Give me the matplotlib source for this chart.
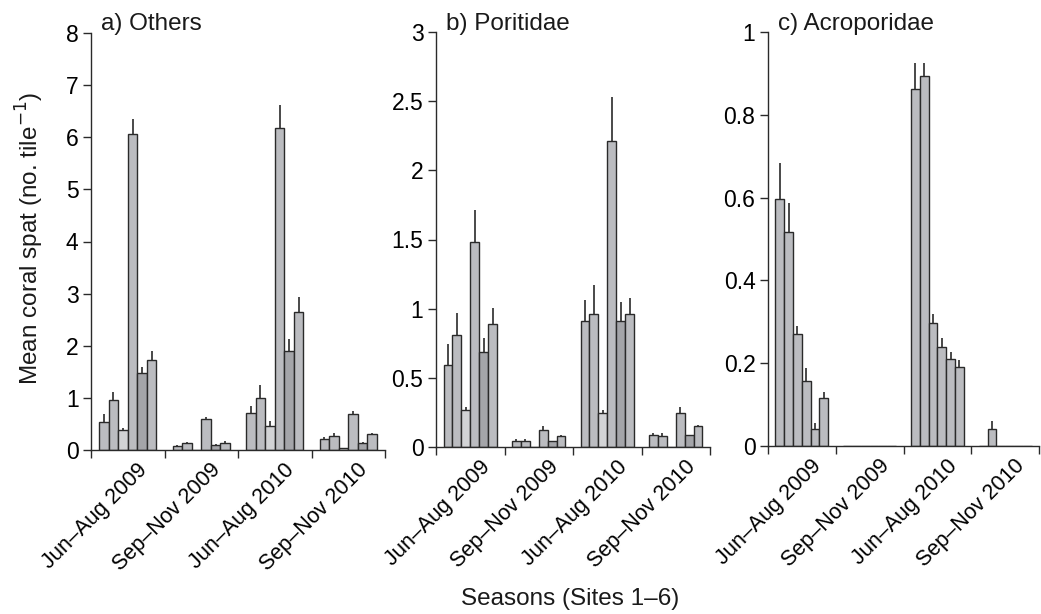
import matplotlib
matplotlib.use("Agg")
import matplotlib.pyplot as plt
import matplotlib.transforms as mtransforms
import numpy as np

plt.rcParams['font.family'] = ['Liberation Sans', 'DejaVu Sans']

seasons = ["Jun–Aug 2009", "Sep–Nov 2009", "Jun–Aug 2010", "Sep–Nov 2010"]
sites = [1, 2, 3, 4, 5, 6]

# Panel a) Others: mean per season (rows) x site (cols)
others_mean = [
    [0.54, 0.96, 0.38, 6.06, 1.48, 1.72],
    [0.08, 0.13, 0.00, 0.59, 0.09, 0.13],
    [0.71, 1.00, 0.47, 6.18, 1.90, 2.65],
    [0.22, 0.26, 0.04, 0.70, 0.13, 0.30],
]
others_se = [
    [0.16, 0.15, 0.04, 0.29, 0.12, 0.17],
    [0.02, 0.03, 0.00, 0.05, 0.02, 0.04],
    [0.13, 0.24, 0.08, 0.44, 0.23, 0.28],
    [0.03, 0.07, 0.00, 0.04, 0.02, 0.02],
]

# Panel b) Poritidae
porit_mean = [
    [0.59, 0.81, 0.27, 1.48, 0.69, 0.89],
    [0.046, 0.046, 0.00, 0.12, 0.046, 0.077],
    [0.91, 0.96, 0.245, 2.21, 0.91, 0.96],
    [0.089, 0.077, 0.00, 0.245, 0.09, 0.15],
]
porit_se = [
    [0.155, 0.16, 0.02, 0.23, 0.10, 0.115],
    [0.014, 0.014, 0.00, 0.03, 0.00, 0.012],
    [0.155, 0.21, 0.025, 0.32, 0.14, 0.12],
    [0.011, 0.023, 0.00, 0.045, 0.00, 0.01],
]

# Panel c) Acroporidae
acro_mean = [
    [0.597, 0.516, 0.27, 0.158, 0.04, 0.117],
    [0.0, 0.0, 0.0, 0.0, 0.0, 0.0],
    [0.862, 0.893, 0.297, 0.24, 0.21, 0.19],
    [0.0, 0.04, 0.0, 0.0, 0.0, 0.0],
]
acro_se = [
    [0.086, 0.071, 0.019, 0.03, 0.015, 0.014],
    [0.0, 0.0, 0.0, 0.0, 0.0, 0.0],
    [0.062, 0.031, 0.022, 0.02, 0.018, 0.018],
    [0.0, 0.02, 0.0, 0.0, 0.0, 0.0],
]

panels = [
    ("a) Others", others_mean, others_se, 8, [0, 1, 2, 3, 4, 5, 6, 7, 8], ["0", "1", "2", "3", "4", "5", "6", "7", "8"]),
    ("b) Poritidae", porit_mean, porit_se, 3, [0, 0.5, 1, 1.5, 2, 2.5, 3], ["0", "0.5", "1", "1.5", "2", "2.5", "3"]),
    ("c) Acroporidae", acro_mean, acro_se, 1, [0, 0.2, 0.4, 0.6, 0.8, 1], ["0", "0.2", "0.4", "0.6", "0.8", "1"]),
]

W, H = 1041, 614
fig = plt.figure(figsize=(W / 100, H / 100), dpi=100)

# axes boxes in pixels: left, right, top, bottom
boxes = [(91, 385, 33, 450), (436, 710, 32, 447), (768, 1039, 32, 446)]

base = "#bbbcc0"
light = "#d2d3d5"
dark = "#a4a5a9"
edge = "#2a2a2a"
site_colors_ab = [base, base, light, base, dark, base]
site_colors_c = [base] * 6

fs_title = 17.5
fs_tick = 15.5
for pi, (title, means, ses, ymax, yt, ytl) in enumerate(panels):
    l, r, t, b = boxes[pi]
    ax = fig.add_axes([l / W, (H - b) / H, (r - l) / W, (b - t) / H])
    m = np.array(means)
    s = np.array(ses)
    bw = 0.13
    cols = site_colors_c if pi == 2 else site_colors_ab
    for j in range(len(sites)):
        x = np.arange(len(seasons)) + (j - 2.5) * bw
        ax.bar(x, m[:, j], width=bw, color=cols[j], edgecolor=edge, linewidth=1.0, zorder=2)
        for xi, mi, si in zip(x, m[:, j], s[:, j]):
            if si > 0:
                ax.vlines(xi, mi, mi + si, color=edge, linewidth=1.2, zorder=3)
    ax.set_xlim(-0.5, len(seasons) - 0.5)
    ax.set_ylim(0, ymax)
    ax.set_yticks(yt)
    ax.set_yticklabels(ytl, fontsize=fs_title - 1)
    ax.set_xticks(np.arange(len(seasons) + 1) - 0.5)
    ax.set_xticklabels([])
    ax.set_xticks(np.arange(len(seasons)), minor=True)
    ax.set_xticklabels(seasons, minor=True, rotation=45, ha='right', va='top',
                       rotation_mode='anchor', fontsize=fs_tick)
    ax.tick_params(axis='x', which='minor', length=0, pad=7)
    ax.tick_params(axis='x', which='major', length=6, width=1, direction='out', color=edge)
    ax.tick_params(axis='y', length=6, width=1, direction='out', color=edge, pad=3)
    for lab in ax.get_xticklabels(minor=True):
        lab.set_transform(lab.get_transform() + mtransforms.ScaledTranslation(0.09, 0, fig.dpi_scale_trans))
    for sp in ['top', 'right']:
        ax.spines[sp].set_visible(False)
    for sp in ['left', 'bottom']:
        ax.spines[sp].set_color(edge)
        ax.spines[sp].set_linewidth(1.0)
    ax.set_facecolor('white')
    fig.text((l + 10) / W, 1 - 24 / H, title, fontsize=fs_title, ha='left', va='center', color='#1a1a1a')

fig.text(30 / W, 1 - 238 / H, "Mean coral spat (no. tile$^{-1}$)", rotation=90,
         ha='center', va='center', fontsize=fs_title, color='#1a1a1a')
fig.text(570 / W, 1 - 599 / H, "Seasons (Sites 1–6)", ha='center', va='center',
         fontsize=fs_title, color='#1a1a1a')

fig.savefig("out.png", dpi=100, facecolor='white')
